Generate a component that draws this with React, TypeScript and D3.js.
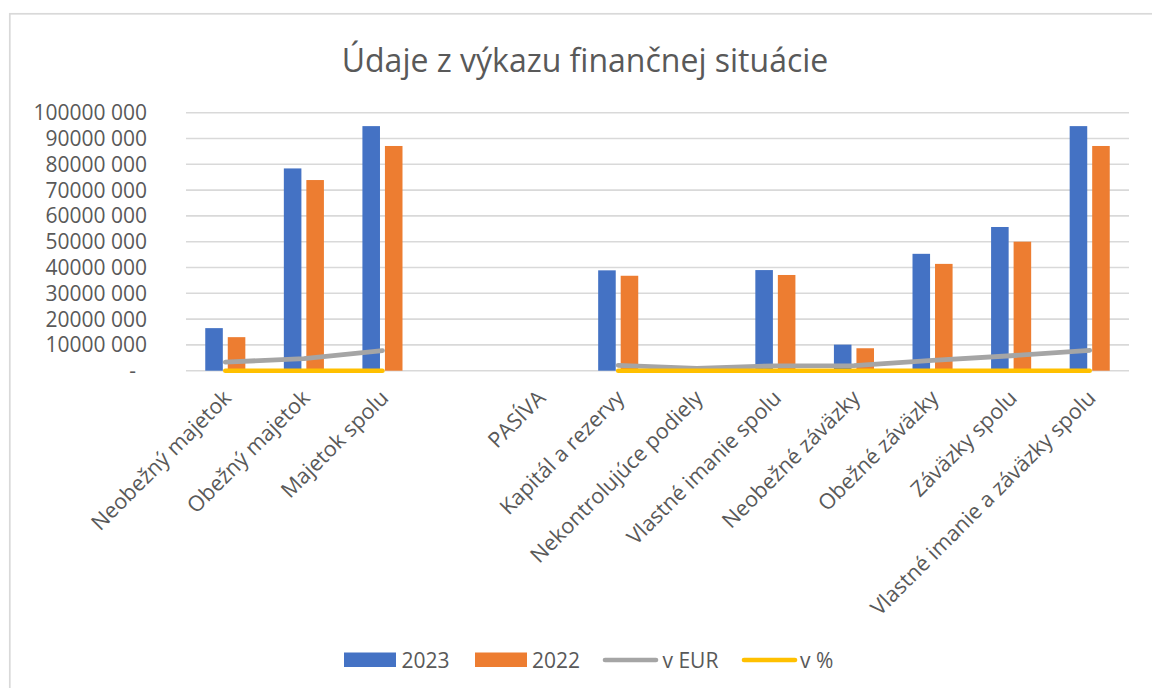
import React from "react";
import * as d3 from "d3";

const categories: string[] = [
  "Neobežný majetok",
  "Obežný majetok",
  "Majetok spolu",
  "",
  "PASÍVA",
  "Kapitál a rezervy",
  "Nekontrolujúce podiely",
  "Vlastné imanie spolu",
  "Neobežné záväzky",
  "Obežné záväzky",
  "Záväzky spolu",
  "Vlastné imanie a záväzky spolu",
];

const values2023: (number | null)[] = [16.5e6, 78.4e6, 94.8e6, null, null, 38.9e6, 0, 39.0e6, 10.1e6, 45.3e6, 55.7e6, 94.8e6];
const values2022: (number | null)[] = [13.0e6, 73.9e6, 87.1e6, null, null, 36.8e6, 0, 37.1e6, 8.7e6, 41.4e6, 50.0e6, 87.1e6];
const diffEur: (number | null)[] = [3.3e6, 4.7e6, 7.8e6, null, null, 2.1e6, 0.9e6, 1.9e6, 2.0e6, 4.0e6, 5.8e6, 7.9e6];
const diffPct: (number | null)[] = [0.27, 0.06, 0.09, null, null, 0.06, 0, 0.05, 0.16, 0.09, 0.11, 0.09];

const yTicks: number[] = [0, 10e6, 20e6, 30e6, 40e6, 50e6, 60e6, 70e6, 80e6, 90e6, 100e6];
const yTickLabels: string[] = ["-", "10000 000", "20000 000", "30000 000", "40000 000", "50000 000", "60000 000", "70000 000", "80000 000", "90000 000", "100000 000"];

const seriesNames = ["2023", "2022"];
const legendItems = [
  { name: "2023", kind: "bar", color: "#4472C4" },
  { name: "2022", kind: "bar", color: "#ED7D31" },
  { name: "v EUR", kind: "line", color: "#A5A5A5" },
  { name: "v %", kind: "line", color: "#FFC000" },
];

const W = 1152;
const H = 688;
const plot = { left: 186, right: 1129, top: 112.7, bottom: 370.7 };
const FONT = "'Open Sans', 'DejaVu Sans', sans-serif";
const TEXT = "#595959";

export default function App() {
  const x = d3
    .scaleBand<string>()
    .domain(categories.map((c, i) => i + "|" + c))
    .range([plot.left, plot.right])
    .paddingInner(0.49)
    .paddingOuter(0.245);
  const keys = x.domain();
  const inner = d3.scaleBand<string>().domain(seriesNames).range([0, x.bandwidth()]).paddingInner(0.22).paddingOuter(0);
  const y = d3.scaleLinear().domain([0, 100e6]).range([plot.bottom, plot.top]);
  const cx = (i: number) => (x(keys[i]) as number) + x.bandwidth() / 2;

  const line = d3
    .line<number | null>()
    .defined((d) => d != null)
    .x((_, i) => cx(i))
    .y((d) => y(d as number));

  const barSeries = [
    { name: "2023", values: values2023, color: "#4472C4" },
    { name: "2022", values: values2022, color: "#ED7D31" },
  ];

  const legendX = [344, 475, 603, 742];
  const legendTextX = [401.5, 532, 662.5, 800];

  return (
    <div style={{ position: "absolute", left: 0, top: 0 }}>
      <svg width={W} height={H} style={{ display: "block", background: "#fff" }}>
        <rect x={9.8} y={13.8} width={1200} height={700} fill="#fff" stroke="#d9d9d9" strokeWidth={1.7} />
        <text x={585} y={72} textAnchor="middle" fontFamily={FONT} fontSize={32} fill={TEXT}>
          Údaje z výkazu finančnej situácie
        </text>
        {yTicks.map((t, i) => (
          <g key={"g" + i}>
            <line x1={plot.left} x2={plot.right} y1={y(t)} y2={y(t)} stroke="#d9d9d9" strokeWidth={1.6} />
            <text
              x={i === 0 ? 136 : 147}
              y={y(t)}
              dy="0.36em"
              textAnchor="end"
              fontFamily={FONT}
              fontSize={21}
              fill={TEXT}
            >
              {yTickLabels[i]}
            </text>
          </g>
        ))}
        {barSeries.map((s) =>
          s.values.map((v, i) =>
            v == null || v === 0 ? null : (
              <rect
                key={s.name + i}
                x={(x(keys[i]) as number) + (inner(s.name) as number)}
                y={y(v)}
                width={inner.bandwidth()}
                height={y(0) - y(v)}
                fill={s.color}
              />
            )
          )
        )}
        <path d={line(diffEur) || ""} fill="none" stroke="#A5A5A5" strokeWidth={4.8} strokeLinecap="round" strokeLinejoin="round" />
        <path d={line(diffPct) || ""} fill="none" stroke="#FFC000" strokeWidth={4.6} strokeLinecap="round" strokeLinejoin="round" />
        {categories.map((c, i) =>
          c ? (
            <text
              key={"xl" + i}
              transform={`translate(${cx(i) + 2},${394}) rotate(-45)`}
              textAnchor="end"
              dy="0.35em"
              fontFamily={FONT}
              fontSize={21.5}
              fill={TEXT}
            >
              {c}
            </text>
          ) : null
        )}
        {legendItems.map((it, i) => (
          <g key={"lg" + i}>
            {it.kind === "bar" ? (
              <rect x={legendX[i]} y={652.5} width={52} height={14.5} fill={it.color} />
            ) : (
              <line x1={legendX[i] + 2} x2={legendX[i] + 53} y1={660} y2={660} stroke={it.color} strokeWidth={4.6} strokeLinecap="round" />
            )}
            <text x={legendTextX[i]} y={660} dy="0.36em" fontFamily={FONT} fontSize={21} fill={TEXT}>
              {it.name}
            </text>
          </g>
        ))}
      </svg>
    </div>
  );
}
